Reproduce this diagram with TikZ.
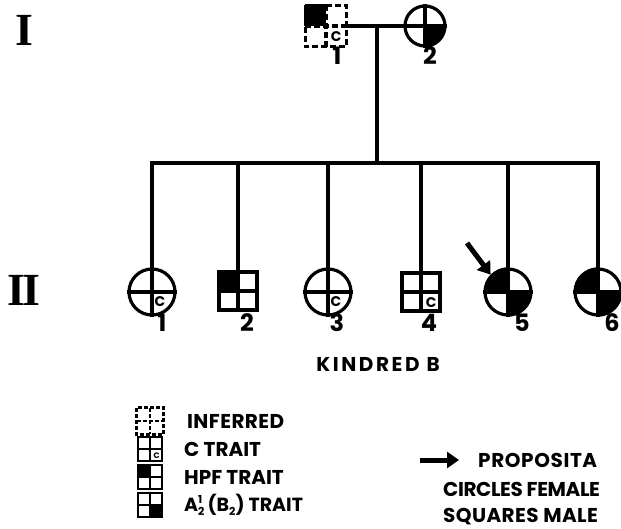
\documentclass[tikz,border=0pt]{standalone}
\usepackage{fontspec}
\newfontfamily\lab{Poppins}
\newfontfamily\rom{Liberation Serif}
\usetikzlibrary{calc,arrows.meta}
\newcommand{\subsupA}{A\rlap{\raisebox{8pt}{\fontsize{11}{11}\selectfont 1}}\raisebox{-4pt}{\fontsize{11}{11}\selectfont 2}}
\newcommand{\subB}{B\raisebox{-4pt}{\fontsize{11}{11}\selectfont 2}}
\begin{document}
\begin{tikzpicture}[x=1pt,y=-1pt,
  lw/.style={line width=3.2pt},
  male/.style={rectangle, minimum size=38pt, inner sep=0pt, lw},
  female/.style={circle, minimum size=46pt, inner sep=0pt, lw},
  num/.style={font=\lab\bfseries\fontsize{24}{24}\selectfont, inner sep=0pt},
  cmark/.style={font=\lab\bfseries\fontsize{14}{14}\selectfont, inner sep=0pt},
  legtext/.style={font=\lab\bfseries\fontsize{20}{20}\selectfont, inner sep=0pt, anchor=west},
  gen/.style={font=\rom\bfseries\fontsize{46}{46}\selectfont, inner sep=0pt},
  icon/.style={rectangle, minimum size=24pt, inner sep=0pt, line width=2.8pt},
  dsh/.style={lw, dash pattern=on 6pt off 3pt}
]
\useasboundingbox (0,0) rectangle (621,529);
% generation labels
\node[gen] (gI) at (24,30) {I};
\node[gen] (gII) at (24,290) {I\kern-3ptI};
% generation I
\node[male] (f) at (326,26) {};
\fill (f.center) rectangle (f.north west);
\draw[lw] (f.north west) -- (f.north);
\draw[lw] (f.north west) -- (f.west);
\draw[dsh] (f.north) -- (f.north east) -- (f.south east) -- (f.south west) -- (f.west);
\draw[dsh] (f.north) -- (f.south);
\draw[dsh] (f.west) -- (f.east);
\node[cmark] (fc) at ($(f.center)!0.5!(f.south east)$) {C};
\node[female, minimum size=40pt] (m) at (425,26) {};
\fill (m.center) -- (m.south) arc[start angle=270,end angle=360,radius=20pt] -- cycle;
\draw[lw] (m.center) circle[radius=20pt];
\draw[lw] (m.north) -- (m.south) (m.west) -- (m.east);
\node[num] (f1) at (337,56) {1};
\node[num] (m2) at (430,56) {2};
% marriage and sibship
\draw[lw] (f.east) -- (m.west);
\coordinate (d1) at (377,26);
\coordinate (d2) at (377,163);
\draw[lw] (d1) -- (d2);
\coordinate (sL) at (152,163);
\coordinate (sR) at (598,163);
\draw[lw, line cap=rect] (sL) -- (sR);
% generation II
\node[female,draw] (c1) at (152,292) {};
\node[male,draw] (c2) at (238,291) {};
\node[female,draw] (c3) at (328,292) {};
\node[male,draw] (c4) at (421,292) {};
\node[female,draw] (c5) at (508,292) {};
\node[female,draw] (c6) at (598,292) {};
\fill (c2.center) rectangle (c2.north west);
\foreach \c in {c5,c6}{
  \fill (\c.center) -- (\c.north) arc[start angle=90,end angle=180,radius=23pt] -- cycle;
  \fill (\c.center) -- (\c.south) arc[start angle=270,end angle=360,radius=23pt] -- cycle;
}
\foreach \c in {c1,c2,c3,c4,c5,c6}{
  \draw[lw] (\c.north) -- (\c.south) (\c.west) -- (\c.east);
  \draw[lw] (\c |- sL) -- (\c.north);
}
\node[cmark] (c1c) at ($(c1.center)+(8,10)$) {C};
\node[cmark] (c3c) at ($(c3.center)+(8,10)$) {C};
\node[cmark] (c4c) at ($(c4.center)!0.5!(c4.south east)$) {C};
\node[num] (n1) at (162,323) {1};
\node[num] (n2) at (247,323) {2};
\node[num] (n3) at (337,323) {3};
\node[num] (n4) at (429,323) {4};
\node[num] (n5) at (522,323) {5};
\node[num] (n6) at (612,323) {6};
\coordinate (pa) at (467,243);
\draw[line width=5pt, -{Triangle[length=12pt,width=16pt]}] (pa) -- (c5.north west);
\node[font=\lab\bfseries\fontsize{20}{20}\selectfont\addfontfeature{LetterSpace=13}, inner sep=0pt] (title) at (378,364) {KINDRED B};
% legend left
\node[icon] (l1) at (150,421) {};
\draw[line width=2.8pt, dash pattern=on 4pt off 2pt] (l1.north west) rectangle (l1.south east) (l1.north) -- (l1.south) (l1.west) -- (l1.east);
\node[icon,draw] (l2) at (150,449) {};
\draw[line width=2.8pt] (l2.north) -- (l2.south) (l2.west) -- (l2.east);
\node[cmark, font=\lab\bfseries\fontsize{8}{8}\selectfont] (l2c) at ($(l2.center)!0.5!(l2.south east)$) {C};
\node[icon,draw] (l3) at (150,477) {};
\fill (l3.center) rectangle (l3.north west);
\draw[line width=2.8pt] (l3.north) -- (l3.south) (l3.west) -- (l3.east);
\node[icon,draw] (l4) at (150,505) {};
\fill (l4.center) rectangle (l4.south east);
\draw[line width=2.8pt] (l4.north) -- (l4.south) (l4.west) -- (l4.east);
\node[legtext, font=\lab\bfseries\fontsize{20}{20}\selectfont\addfontfeature{LetterSpace=2}] (t1) at (187,421) {INFERRED};
\node[legtext] (t2) at (184,449) {C TRAIT};
\node[legtext] (t3) at (184,477) {HPF TRAIT};
\node[legtext, font=\lab\bfseries\fontsize{19}{19}\selectfont] (t4) at (184,505) {\subsupA\,(\subB) TRAIT};
% legend right
\coordinate (a1) at (420,460);
\coordinate (a2) at (459,460);
\draw[line width=5pt, -{Triangle[length=12pt,width=16pt]}] (a1) -- (a2);
\node[legtext, font=\lab\bfseries\fontsize{20}{20}\selectfont\addfontfeature{LetterSpace=3}] (t5) at (478,460) {PROPOSITA};
\node[legtext, font=\lab\bfseries\fontsize{20}{20}\selectfont\addfontfeature{LetterSpace=-2}] (t6) at (443,489) {CIRCLES FEMALE};
\node[legtext, font=\lab\bfseries\fontsize{20}{20}\selectfont\addfontfeature{LetterSpace=2}] (t7) at (443,517) {SQUARES MALE};
\end{tikzpicture}
\end{document}
